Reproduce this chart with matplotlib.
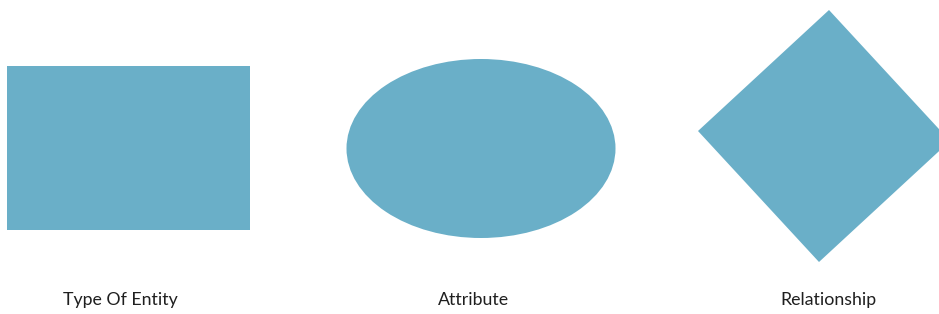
import matplotlib.pyplot as plt
from matplotlib.patches import Rectangle, Ellipse, Polygon

labels = ['Type Of Entity', 'Attribute', 'Relationship']
label_x = [120, 474, 828]

fill = '#6AAFC8'

fig = plt.figure(figsize=(9.39, 3.14), dpi=100)
ax = fig.add_axes([0, 0, 1, 1])
ax.set_xlim(0, 939)
ax.set_ylim(314, 0)
ax.axis('off')

# entity
ax.add_patch(Rectangle((7, 66), 243, 164, facecolor=fill, edgecolor='none'))
# attribute
ax.add_patch(Ellipse((481, 148.5), 269, 179, facecolor=fill, edgecolor='none'))
# relationship (rotated square, clipped at right edge)
ax.add_patch(Polygon([(698, 131), (829, 10), (950, 141), (819, 262)],
                     closed=True, facecolor=fill, edgecolor='none'))

for x, t in zip(label_x, labels):
    ax.text(x, 300, t, ha='center', va='center', fontsize=12.8,
            family='Lato', color='#1f1f1f')

fig.savefig('out.png', dpi=100)
